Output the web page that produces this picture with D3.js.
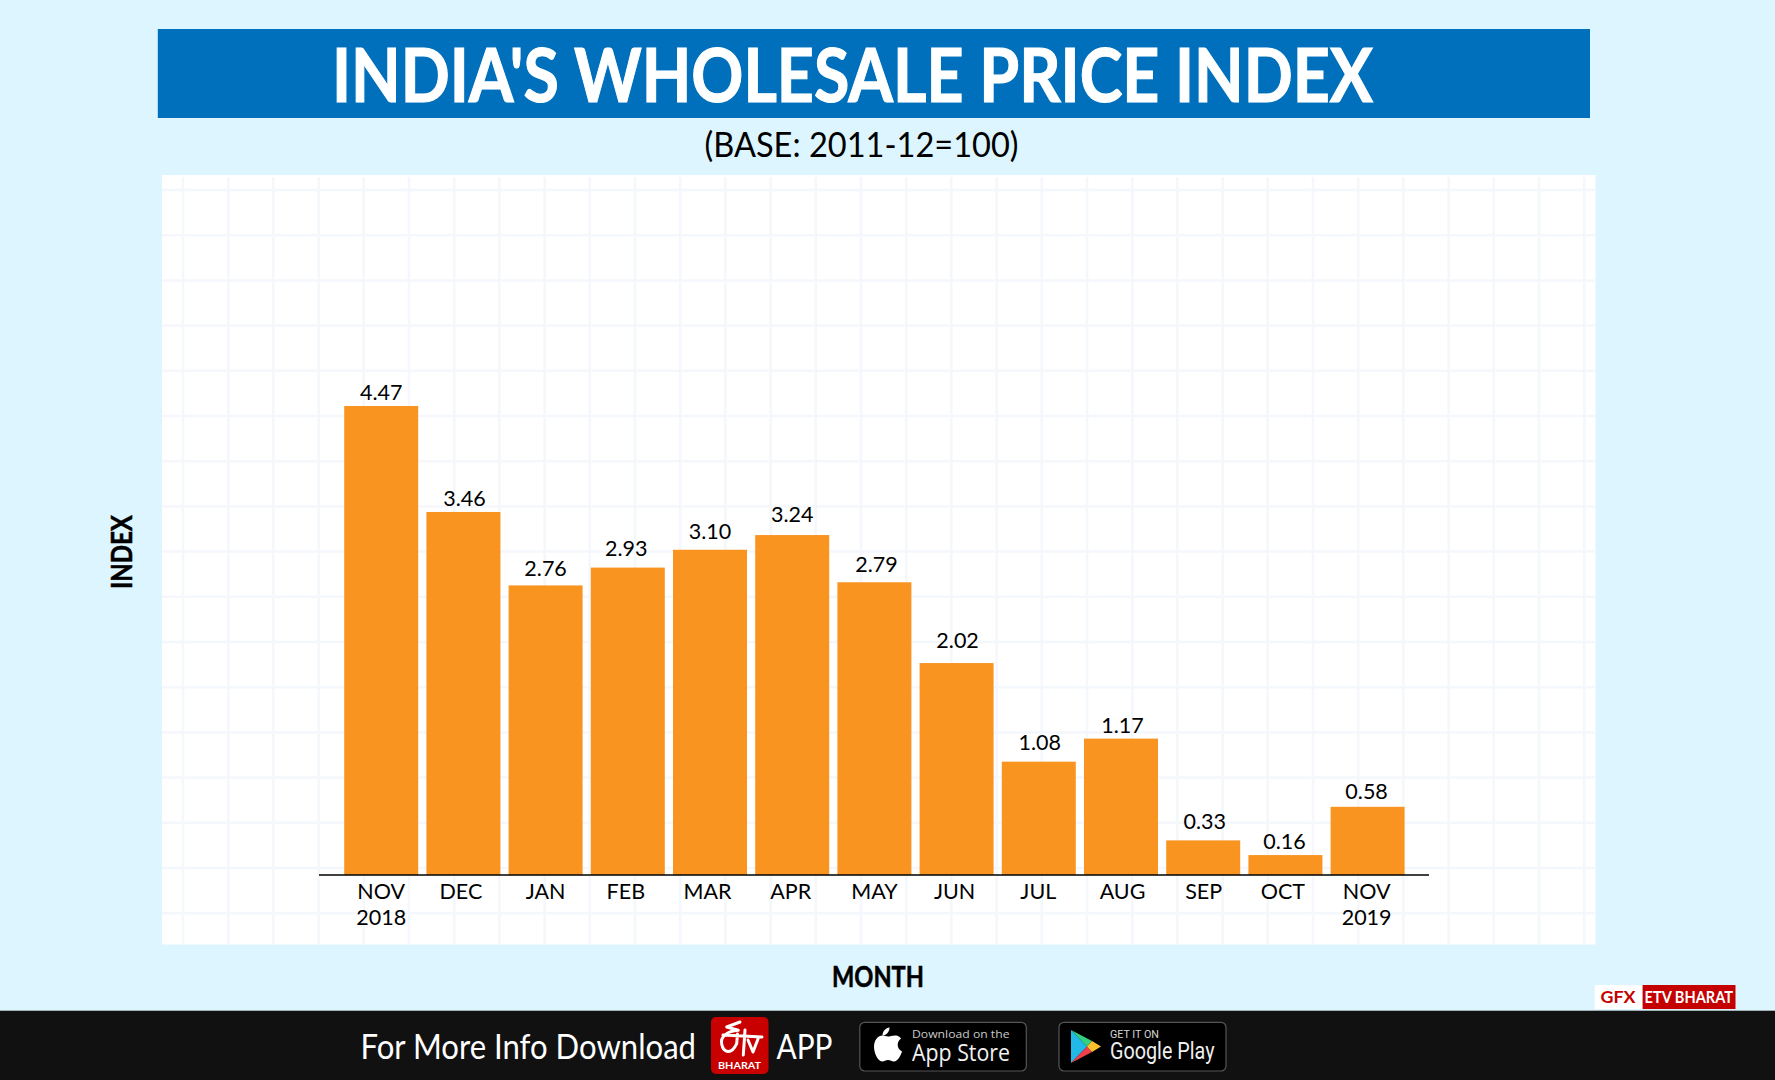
<!DOCTYPE html>
<html><head><meta charset="utf-8">
<script src="https://cdn.jsdelivr.net/npm/d3@7/dist/d3.min.js"></script>
<style>html,body{margin:0;padding:0;background:#DDF5FF;overflow:hidden}svg{display:block;font-family:Lato,sans-serif}</style>
</head><body><div id="chart"></div>
<script>
const months = ["NOV","DEC","JAN","FEB","MAR","APR","MAY","JUN","JUL","AUG","SEP","OCT","NOV "];
const years = ["2018","","","","","","","","","","","","2019"];
// Values printed above the bars
const printedValues = ["4.47","3.46","2.76","2.93","3.10","3.24","2.79","2.02","1.08","1.17","0.33","0.16","0.58"];
// Bar heights (the reference draws AUG, OCT and the last NOV taller than their printed values)
const barHeights = [4.47,3.46,2.76,2.93,3.10,3.24,2.79,2.02,1.08,1.30,0.33,0.19,0.65];
const titleText = "INDIA'S WHOLESALE PRICE INDEX";
const subtitleText = "(BASE: 2011-12=100)";
const xTitle = "MONTH", yTitle = "INDEX";

const W = 1775, H = 1080;
const svg = d3.select("#chart").append("svg").attr("width", W).attr("height", H);
const rect = (g,x0,y0,x1,y1,fill,r) => g.append("rect").attr("x",x0).attr("y",y0).attr("width",x1-x0).attr("height",y1-y0).attr("fill",fill).attr("rx",r||0);
const fit = (g,s,x,y,size,len,weight,fill,fam) => g.append("text").attr("x",x).attr("y",y).attr("font-size",size).attr("font-weight",weight||400).attr("fill",fill||"#000").attr("font-family",fam||null).attr("textLength",len).attr("lengthAdjust","spacingAndGlyphs").text(s);

rect(svg,0,0,W,H,"#DDF5FF");
rect(svg,157.8,29,1590,118,"#0070BD");
fit(svg,titleText,332,101.5,74,1041,700,"#fff").attr("stroke","#fff").attr("stroke-width",1.1);
fit(svg,subtitleText,704.5,156.5,35,314,400,"#000");

// white panel and faint grid
rect(svg,162,175,1595.5,944.5,"#fff");
const gridG = svg.append("g").attr("stroke","#F4F7FB").attr("stroke-width",2.5);
gridG.selectAll("line.v").data(d3.range(183,1595,45.2)).join("line").attr("class","v").attr("x1",d=>d).attr("x2",d=>d).attr("y1",177).attr("y2",944.5);
gridG.selectAll("line.h").data(d3.range(190,940,45.2)).join("line").attr("class","h").attr("x1",162).attr("x2",1595.5).attr("y1",d=>d).attr("y2",d=>d);

// scales
const idx = months.map((d,i)=>i);
const x = d3.scaleBand().domain(idx).range([340.1,1408.7]).paddingInner(0.0998).paddingOuter(0.0499);
const y = d3.scaleLinear().domain([0,4.47]).range([875,406]);

svg.append("g").selectAll("rect").data(barHeights).join("rect")
  .attr("x",(d,i)=>x(i)).attr("width",x.bandwidth()).attr("y",d=>y(d)).attr("height",d=>y(0)-y(d)).attr("fill","#F99420");

// hand-placement of the texts in the reference, in px
const labelLift = [0,0,3,5.5,4.5,7,4.5,9,5.5,0,5.5,0,2];
const labelShift = [0,1,0,-1.5,0,0,2,1,1,1.5,1.5,-1,-1];
const tickShift = [0,-2.5,0,-2,-2.5,-1.5,0,-2,-0.5,1.5,0.5,-2.5,-1];

svg.append("g").attr("font-size",21.5).attr("text-anchor","middle").selectAll("text").data(printedValues).join("text")
  .attr("x",(d,i)=>x(i)+x.bandwidth()/2+labelShift[i]).attr("y",(d,i)=>y(barHeights[i])-6-labelLift[i]).attr("fill","#000").text(d=>d);

const ax = svg.append("g").attr("transform","translate(0,875)")
  .call(d3.axisBottom(x).tickSize(0).tickPadding(0).tickFormat(i=>months[i].trim()));
ax.select(".domain").remove();
ax.selectAll("text").attr("x",i=>tickShift[i]).attr("y",23.5).attr("dy",0).attr("font-size",21.5).attr("font-family","Lato").attr("fill","#000");
ax.selectAll(".tick").filter(i=>years[i]).append("text").attr("x",i=>tickShift[i]).attr("y",49.5).attr("fill","#000").attr("font-size",21.5).attr("font-family","Lato").text(i=>years[i]);
svg.append("line").attr("x1",319).attr("x2",1429).attr("y1",875).attr("y2",875).attr("stroke","#000").attr("stroke-width",1.6);

fit(svg,xTitle,832,987,28,92,700,"#000").attr("stroke","#000").attr("stroke-width",0.5);
const yt = svg.append("g").attr("transform","translate(132,589) rotate(-90)");
fit(yt,yTitle,0,0,28,74,700,"#000").attr("stroke","#000").attr("stroke-width",0.5);

// footer
rect(svg,0,1010.7,W,H,"#111111");
fit(svg,"For More Info Download",360.5,1059,34,335.5,400,"#fff");
fit(svg,"APP",776.5,1059,34,56,400,"#fff");

// ETV logo
const logo = svg.append("g");
rect(logo,711,1017,768.5,1074,"#C80000",5);
logo.append("path").attr("fill","none").attr("stroke","#fff").attr("stroke-width",3).attr("stroke-linecap","round").attr("stroke-linejoin","round")
 .attr("d","M740 1022 L726.7 1027 L738.3 1030.3 C727 1031 720 1037 721.7 1044 C723 1052 731 1056 736.7 1043.7 L737.5 1034 M723 1035 L762 1037 M745 1030 L743.3 1055 M748 1040 L753 1052 L758 1039");
fit(logo,"BHARAT",718,1069.3,10,43,700,"#fff");

// App Store badge
const a = svg.append("g");
rect(a,859.8,1022.3,1026.3,1071,"#000",5).attr("stroke","#555").attr("stroke-width",1.2);
a.append("path").attr("fill","#fff").attr("d","M889.5 1027.5 C889.5 1032 886 1035.5 882.5 1035.5 C882.5 1031 886 1028 889.5 1027.5 Z M888 1036.5 C890 1036.5 893 1035 896.5 1035.5 C898.5 1036 900 1037 901 1038.5 C896 1042 897 1049 902 1051.5 C900.5 1056 897.5 1061.5 894 1061.5 C891.5 1061.5 890.5 1060 888 1060 C885.5 1060 884.5 1061.5 882 1061.5 C878 1061.5 874 1053 874 1047 C874 1040 878 1035.5 882.5 1035.5 C884.5 1035.5 886.5 1036.5 888 1036.5 Z");
fit(a,"Download on the",912,1038,11.5,97.5,400,"#c9c9c9","'Open Sans'");
fit(a,"App Store",912,1060.5,24,98,400,"#f2f2f2","'Open Sans'");

// Google Play badge
const p = svg.append("g");
rect(p,1059,1022.3,1226,1071,"#000",5).attr("stroke","#555").attr("stroke-width",1.2);
const tri = [["#22B8E8","M1071 1030 L1071 1063 L1087 1046.5 Z"],["#35D07F","M1071 1030 L1092 1041 L1087 1046.5 Z"],["#F0404E","M1071 1063 L1092 1052 L1087 1046.5 Z"],["#FBC02D","M1092 1041 L1101 1046.5 L1092 1052 L1087 1046.5 Z"]];
p.selectAll("path").data(tri).join("path").attr("fill",d=>d[0]).attr("d",d=>d[1]);
fit(p,"GET IT ON",1110,1037.5,11,49,400,"#d5d5d5","Roboto");
fit(p,"Google Play",1110,1059,24,104.5,400,"#eee","Roboto");

// GFX badge
rect(svg,1594.7,985,1642.6,1009,"#fff");
rect(svg,1642.6,985,1735.5,1009,"#C40000");
fit(svg,"GFX",1600.5,1003,17,35,700,"#C40000");
fit(svg,"ETV BHARAT",1644.6,1003,17,88.5,700,"#fff");
</script></body></html>
